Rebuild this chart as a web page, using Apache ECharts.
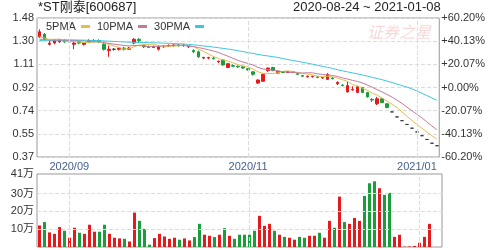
<!DOCTYPE html>
<html><head><meta charset="utf-8">
<script src="https://cdn.jsdelivr.net/npm/echarts@6/dist/echarts.min.js"></script>
<style>html,body{margin:0;padding:0;background:#fff}#c{width:488px;height:250px}</style>
</head><body><div id="c"></div>
<script>
const dates = [
'2020-08-24','2020-08-25','2020-08-26','2020-08-27','2020-08-28','2020-08-31',
'2020-09-01','2020-09-02','2020-09-03','2020-09-04',
'2020-09-07','2020-09-08','2020-09-09','2020-09-10','2020-09-11',
'2020-09-14','2020-09-15','2020-09-16','2020-09-17','2020-09-18',
'2020-09-21','2020-09-22','2020-09-23','2020-09-24','2020-09-25',
'2020-09-28','2020-09-29','2020-09-30',
'2020-10-13','2020-10-14','2020-10-15','2020-10-16',
'2020-10-19','2020-10-20','2020-10-21','2020-10-22','2020-10-23',
'2020-10-26','2020-10-27','2020-10-28','2020-10-29','2020-10-30',
'2020-11-02','2020-11-03','2020-11-04','2020-11-05','2020-11-06',
'2020-11-09','2020-11-10','2020-11-11','2020-11-12','2020-11-13',
'2020-11-16','2020-11-17','2020-11-18','2020-11-19','2020-11-20',
'2020-11-23','2020-11-24','2020-11-25','2020-11-26','2020-11-27',
'2020-11-30','2020-12-01','2020-12-02','2020-12-03','2020-12-04',
'2020-12-07','2020-12-08','2020-12-09','2020-12-10','2020-12-11',
'2020-12-28','2020-12-29','2020-12-30','2020-12-31',
'2021-01-04','2021-01-05','2021-01-06','2021-01-07','2021-01-08'];

// [open, close, low, high]
const candles = [
[1.33,1.37,1.32,1.39],[1.35,1.31,1.30,1.36],[1.27,1.28,1.26,1.30],[1.28,1.30,1.27,1.31],
[1.29,1.30,1.28,1.31],[1.30,1.29,1.28,1.31],[1.29,1.29,1.28,1.30],[1.27,1.28,1.23,1.29],
[1.29,1.28,1.27,1.30],[1.27,1.28,1.26,1.29],[1.29,1.30,1.28,1.31],[1.30,1.30,1.29,1.31],
[1.30,1.29,1.28,1.31],[1.27,1.23,1.22,1.29],[1.22,1.23,1.17,1.26],[1.23,1.23,1.22,1.24],
[1.23,1.24,1.22,1.25],[1.24,1.23,1.22,1.25],[1.23,1.24,1.23,1.25],[1.28,1.31,1.27,1.32],
[1.31,1.30,1.28,1.32],[1.26,1.25,1.24,1.27],[1.25,1.245,1.24,1.26],[1.245,1.25,1.24,1.26],
[1.23,1.25,1.22,1.26],[1.25,1.255,1.24,1.26],[1.255,1.26,1.25,1.27],[1.26,1.265,1.25,1.27],
[1.265,1.26,1.25,1.27],[1.26,1.265,1.25,1.27],[1.25,1.255,1.24,1.26],[1.22,1.21,1.20,1.23],
[1.21,1.17,1.16,1.22],[1.16,1.165,1.15,1.17],[1.16,1.165,1.15,1.17],[1.16,1.155,1.15,1.17],
[1.13,1.135,1.12,1.14],[1.145,1.105,1.10,1.15],[1.085,1.115,1.08,1.12],[1.10,1.095,1.09,1.11],
[1.095,1.09,1.08,1.10],[1.09,1.08,1.075,1.095],[1.075,1.065,1.06,1.08],[1.05,1.03,1.02,1.055],
[0.96,0.985,0.955,0.99],[0.975,1.03,0.97,1.035],[1.06,1.08,1.05,1.085],[1.085,1.06,1.055,1.09],
[1.04,1.055,1.035,1.06],[1.05,1.045,1.04,1.055],[1.045,1.05,1.04,1.055],[1.045,1.05,1.04,1.055],
[1.035,1.03,1.025,1.04],[1.02,1.015,1.01,1.025],[1.01,1.015,1.005,1.02],[1.01,1.015,1.005,1.02],
[1.01,1.005,1.00,1.015],[1.00,1.005,0.995,1.01],[0.99,1.03,0.985,1.04],[1.00,0.995,0.99,1.01],
[0.955,0.965,0.945,0.975],[0.945,0.94,0.935,0.95],[0.89,0.94,0.885,0.97],[0.905,0.91,0.90,0.935],
[0.885,0.93,0.88,0.94],[0.925,0.885,0.88,0.93],[0.885,0.85,0.845,0.89],[0.83,0.825,0.81,0.84],
[0.795,0.835,0.785,0.85],[0.835,0.805,0.80,0.84],[0.795,0.765,0.76,0.80],
[0.73,0.73,0.73,0.73],[0.69,0.69,0.69,0.69],[0.66,0.66,0.66,0.66],[0.63,0.63,0.63,0.63],
[0.60,0.60,0.60,0.60],[0.57,0.57,0.57,0.57],[0.54,0.54,0.54,0.54],[0.51,0.51,0.51,0.51],
[0.48,0.48,0.48,0.48],[0.46,0.46,0.46,0.46]];

// volume in 万 shares
const volumes = [12.1,14,8.2,7.4,11.2,9.1,5.2,10.8,8,7.4,12.5,8.6,8.6,12.5,7.4,5.2,4.8,4.6,3.1,19.3,
14.7,10.2,1.3,5,7.4,5.9,4.6,5.2,4.1,4.8,3.7,5.6,13,6.9,6.3,5.6,6.9,10.6,6.3,4.6,
6.9,6.9,6.9,9.1,17.5,11.9,13,9.1,6.9,5.7,5.2,4.1,5.7,5.2,6.3,6.3,8,5.2,14.7,10.8,
28.3,14,13,16.3,14.7,28.7,35.8,36.9,33,29.3,30.4,5.7,6.9,0.2,0.3,0.6,2.4,5.7,13,0,0];

const ma5 = [1.33,1.32,1.31,1.31,1.312,1.296,1.292,1.292,1.288,1.284,1.286,1.288,1.29,1.28,1.27,1.256,1.244,1.232,1.234,1.25,
1.264,1.266,1.269,1.271,1.259,1.25,1.252,1.256,1.258,1.261,1.261,1.251,1.232,1.213,1.193,1.173,1.158,1.145,1.135,1.121,
1.108,1.097,1.089,1.072,1.05,1.038,1.038,1.037,1.042,1.054,1.058,1.052,1.046,1.038,1.032,1.025,1.016,1.011,1.014,1.01,
1.00,0.987,0.974,0.95,0.937,0.921,0.903,0.88,0.865,0.84,0.816,0.792,0.765,0.73,0.695,0.662,0.63,0.60,0.57,0.54,0.512];

const ma10 = [1.31,1.31,1.30,1.30,1.30,1.30,1.30,1.30,1.30,1.298,1.291,1.29,1.291,1.284,1.277,1.271,1.266,1.261,1.257,1.26,
1.26,1.255,1.251,1.253,1.255,1.257,1.259,1.263,1.265,1.26,1.256,1.252,1.244,1.236,1.227,1.217,1.205,1.189,1.174,1.157,
1.141,1.128,1.117,1.104,1.086,1.073,1.068,1.063,1.057,1.052,1.048,1.045,1.042,1.04,1.043,1.042,1.034,1.029,1.026,1.021,
1.013,1.002,0.993,0.982,0.974,0.961,0.945,0.927,0.908,0.889,0.869,0.848,0.823,0.798,0.768,0.739,0.711,0.683,0.65,0.618,0.587];

const ma30 = [1.30,1.302,1.304,1.305,1.306,1.306,1.306,1.305,1.304,1.303,1.302,1.30,1.299,1.297,1.295,1.293,1.291,1.289,1.287,1.286,
1.285,1.284,1.283,1.282,1.281,1.279,1.278,1.276,1.274,1.273,1.269,1.266,1.262,1.257,1.253,1.248,1.243,1.237,1.232,1.226,
1.219,1.211,1.204,1.197,1.189,1.182,1.177,1.171,1.165,1.156,1.148,1.141,1.134,1.126,1.119,1.111,1.102,1.093,1.086,1.077,
1.067,1.058,1.05,1.042,1.034,1.025,1.016,1.006,0.997,0.987,0.976,0.965,0.952,0.94,0.928,0.914,0.897,0.879,0.861,0.842,0.823];

const priceTicks = ['0.37','0.55','0.74','0.92','1.11','1.30','1.48'];
const pctTicks = ['-60.20%','-40.13%','-20.07%','+0.00%','+20.07%','+40.13%','+60.20%'];
const volTickValues = [10,20,30,41];
const volTickLabels = ['10万','20万','30万','41万'];
const monthTickDates = ['2020-09-01','2020-11-02','2021-01-04'];
const monthTickLabels = ['2020/09','2020/11','2021/01'];

const RED = '#e41a1c', GREEN = '#1a9e3c', DOJI = '#3a3a3a';
const FONT = '"Liberation Sans", Arial, "Noto Sans CJK SC", sans-serif';
const PMIN = 0.37, PMAX = 1.48, PSTEP = 0.185;

const candleData = candles.map(c => {
  if (c[0] === c[1]) {
    return {value: c, itemStyle: {color: DOJI, color0: DOJI, borderColor: DOJI, borderColor0: DOJI}};
  }
  return {value: c};
});
const volData = volumes.map((v, i) => ({
  value: v,
  itemStyle: {color: candles[i][1] >= candles[i][0] ? RED : GREEN}
}));

const gridLine = {silent: true, symbol: 'none', label: {show: false},
  lineStyle: {color: '#dcdcdc', type: 'dashed', width: 1}, emphasis: {disabled: true}};

const chart = echarts.init(document.getElementById('c'), null, {renderer: 'canvas'});
chart.setOption({
  animation: false,
  textStyle: {fontFamily: FONT},
  title: [
    {text: '*ST刚泰[600687]', left: 38, top: 1, padding: 0,
     textStyle: {fontSize: 13, fontWeight: 'normal', color: '#222', fontFamily: FONT}},
    {text: '2020-08-24 ~ 2021-01-08', left: 293, top: 1, padding: 0,
     textStyle: {fontSize: 13, fontWeight: 'normal', color: '#222', fontFamily: FONT}}
  ],
  graphic: [{type: 'text', left: 367, top: 24, silent: true, z: 0,
    style: {text: '证券之星', fill: 'rgba(230,110,110,0.28)', font: 'italic 16px "Noto Sans CJK SC"'}}],
  legend: {data: ['5PMA', '10PMA', '30PMA'], left: 46, top: 21, align: 'right', icon: 'rect',
    itemWidth: 9, itemHeight: 3, itemGap: 7, padding: 0,
    textStyle: {fontSize: 11, color: '#333', fontFamily: FONT}},
  grid: [
    {left: 37, top: 18, width: 405, height: 139, show: true, borderColor: '#999', borderWidth: 1},
    {left: 37, top: 174, width: 405, height: 73, show: true, borderColor: '#999', borderWidth: 1}
  ],
  xAxis: [
    {type: 'category', data: dates, gridIndex: 0, boundaryGap: true,
     axisLine: {show: false}, axisTick: {show: false}, splitLine: {show: false},
     axisLabel: {show: true, margin: 4, fontSize: 11, color: '#45608f', fontFamily: FONT,
       interval: (i, v) => monthTickDates.indexOf(v) >= 0,
       formatter: v => { const k = monthTickDates.indexOf(v); return k >= 0 ? monthTickLabels[k] : ''; }}},
    {type: 'category', data: dates, gridIndex: 1, boundaryGap: true,
     axisLine: {show: false}, axisTick: {show: false}, axisLabel: {show: false}, splitLine: {show: false}}
  ],
  yAxis: [
    {type: 'value', gridIndex: 0, min: PMIN, max: PMAX, interval: PSTEP, position: 'left',
     axisLine: {show: false}, axisTick: {show: false},
     splitLine: {show: true, lineStyle: {color: '#dcdcdc', type: 'dashed'}},
     axisLabel: {margin: 3, fontSize: 11, color: '#333', fontFamily: FONT,
       formatter: v => priceTicks[Math.round((v - PMIN) / PSTEP)] || ''}},
    {type: 'value', gridIndex: 0, min: -3, max: 3, interval: 1, position: 'right',
     axisLine: {show: false}, axisTick: {show: false}, splitLine: {show: false},
     axisLabel: {margin: 2, fontSize: 11, color: '#333', fontFamily: FONT,
       formatter: v => pctTicks[Math.round(v) + 3] || ''}},
    {type: 'value', gridIndex: 1, min: 0, max: 41, interval: 10, position: 'left',
     axisLine: {show: false}, axisTick: {show: false}, splitLine: {show: false},
     axisLabel: {margin: 3, fontSize: 11, color: '#333', fontFamily: FONT,
       formatter: v => { const k = volTickValues.indexOf(Math.round(v * 100) / 100); return k >= 0 ? volTickLabels[k] : ''; }}}
  ],
  series: [
    {type: 'candlestick', name: 'K', xAxisIndex: 0, yAxisIndex: 0, data: candleData, barWidth: 3,
     itemStyle: {color: RED, color0: GREEN, borderColor: RED, borderColor0: GREEN, borderWidth: 1},
     markLine: Object.assign({data: monthTickDates.map(d => ({xAxis: d}))}, gridLine)},
    {type: 'line', name: '5PMA', data: ma5, xAxisIndex: 0, yAxisIndex: 0, symbol: 'none',
     lineStyle: {color: '#e3bd4f', width: 1}, itemStyle: {color: '#e3bd4f'}},
    {type: 'line', name: '10PMA', data: ma10, xAxisIndex: 0, yAxisIndex: 0, symbol: 'none',
     lineStyle: {color: '#c07a9c', width: 1}, itemStyle: {color: '#c07a9c'}},
    {type: 'line', name: '30PMA', data: ma30, xAxisIndex: 0, yAxisIndex: 0, symbol: 'none',
     lineStyle: {color: '#3cc6e0', width: 1}, itemStyle: {color: '#3cc6e0'}},
    {type: 'bar', name: 'VOL', xAxisIndex: 1, yAxisIndex: 2, data: volData, barWidth: 3,
     markLine: Object.assign({data: monthTickDates.map(d => ({xAxis: d}))
       .concat(volTickValues.slice(0, 3).map(v => ({yAxis: v})))}, gridLine)}
  ]
});
</script></body></html>
